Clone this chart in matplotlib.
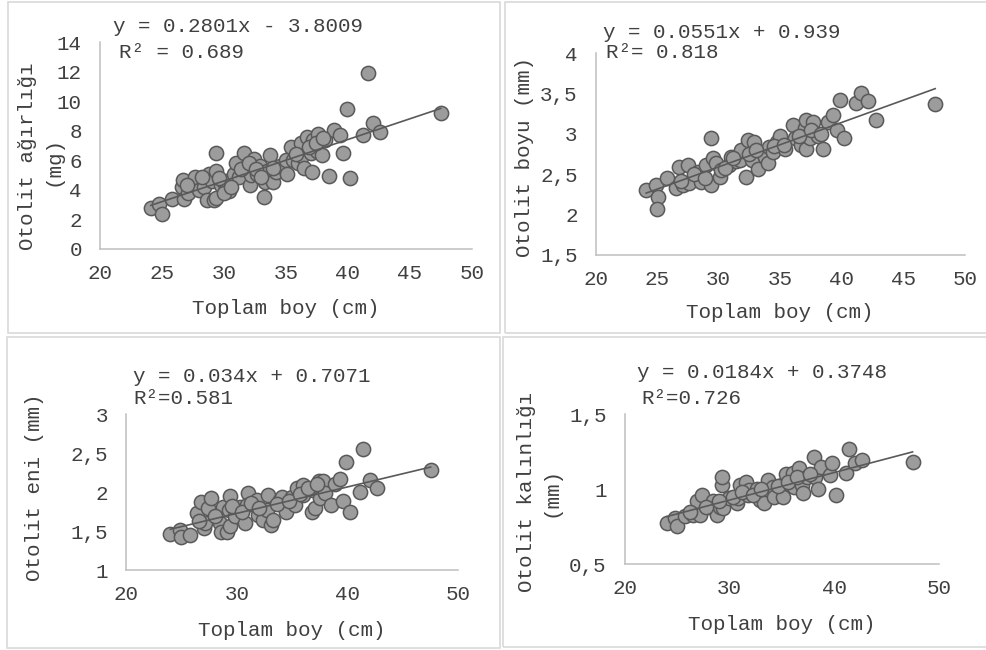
import numpy as np
import matplotlib
matplotlib.use("Agg")
import matplotlib.pyplot as plt
from matplotlib.patches import Rectangle

W, H = 986, 650

# Toplam boy (cm) vs otolit agirligi (mg)
len_w = [24.1, 24.8, 25.0, 25.8, 26.6, 26.7, 26.8, 27.1, 27.4, 27.7, 28.0, 28.4, 28.6, 28.8,
         29.0, 29.2, 29.4, 29.4, 29.4, 29.8, 30.0, 30.2, 30.4, 30.5, 30.8, 31.0, 31.2, 31.6,
         31.8, 32.1, 32.2, 32.4, 32.7, 32.9, 33.2, 33.3, 33.5, 33.7, 34.0, 34.2, 34.5, 35.0,
         35.1, 35.4, 35.6, 36.0, 36.2, 36.3, 36.5, 36.7, 37.0, 37.1, 37.2, 37.5, 37.6, 37.9,
         38.2, 38.5, 38.9, 39.4, 39.6, 39.9, 40.2, 41.2, 41.6, 42.0, 42.6, 47.5,
         27.0, 28.2, 29.6, 30.0, 30.6, 31.4, 32.0, 32.6, 33.0, 34.0, 35.8, 36.9, 37.4, 38.0]
weight = [2.75, 3.04, 2.36, 3.36, 4.17, 4.66, 3.36, 3.76, 4.4, 4.85, 4.0, 4.2, 3.3, 5.1,
          4.6, 3.3, 3.42, 5.27, 6.46, 4.3, 4.5, 4.0, 3.9, 4.7, 5.1, 5.8, 4.9, 6.46,
          5.52, 4.3, 5.0, 6.1, 5.1, 5.6, 3.5, 4.5, 5.3, 6.35, 4.5, 5.22, 5.6, 6.0,
          5.1, 6.9, 6.0, 5.8, 7.14, 6.3, 5.5, 7.6, 6.46, 5.22, 7.36, 6.6, 7.8, 6.35,
          7.36, 4.95, 8.04, 7.7, 6.46, 9.5, 4.78, 7.7, 11.87, 8.5, 7.93, 9.2,
          4.3, 4.9, 4.8, 3.8, 4.2, 5.4, 5.8, 5.4, 4.9, 5.5, 6.4, 6.9, 7.2, 7.5]

# Toplam boy (cm) vs otolit boyu (mm)
len_l = [24.1, 24.9, 25.1, 25.0, 25.8, 26.5, 26.8, 27.1, 27.5, 27.6, 28.3, 28.6, 29.0, 29.4,
         29.4, 29.5, 29.8, 30.1, 30.2, 30.8, 31.0, 31.4, 31.7, 31.8, 32.2, 32.4, 32.7, 32.9,
         33.2, 33.5, 33.8, 34.0, 34.1, 34.4, 34.7, 35.0, 35.4, 36.0, 36.2, 36.7, 37.0, 37.1,
         37.1, 37.4, 37.7, 38.1, 38.5, 38.9, 39.3, 39.6, 39.9, 40.2, 41.2, 41.6, 42.1, 42.8, 47.6,
         26.9, 28.0, 28.9, 30.5, 31.2, 32.5, 33.0, 34.5, 35.3, 36.5, 37.5, 38.3]
length = [2.31, 2.37, 2.22, 2.07, 2.45, 2.33, 2.59, 2.37, 2.62, 2.39, 2.53, 2.41, 2.62, 2.95,
          2.37, 2.70, 2.64, 2.47, 2.55, 2.62, 2.72, 2.66, 2.68, 2.80, 2.47, 2.93, 2.68, 2.90,
          2.57, 2.78, 2.72, 2.64, 2.84, 2.78, 2.90, 2.97, 2.82, 3.11, 2.95, 2.86, 3.07, 2.82,
          3.17, 2.95, 3.15, 2.97, 2.82, 3.15, 3.23, 3.05, 3.42, 2.95, 3.38, 3.51, 3.41, 3.17, 3.37,
          2.42, 2.50, 2.45, 2.58, 2.70, 2.75, 2.80, 2.85, 2.86, 2.98, 3.05, 3.00]

# Toplam boy (cm) vs otolit eni (mm)
len_b = [24.0, 24.9, 25.0, 25.8, 26.4, 26.8, 27.0, 27.1, 27.4, 27.7, 28.5, 28.6, 28.8, 29.1,
         29.3, 29.4, 29.4, 29.8, 30.3, 30.7, 31.0, 30.9, 31.8, 31.9, 32.4, 32.7, 32.8, 33.1,
         33.3, 33.9, 34.1, 34.4, 35.0, 35.3, 35.4, 36.0, 36.0, 36.8, 37.1, 36.9, 37.4, 37.5,
         37.8, 38.0, 38.5, 38.9, 39.3, 39.6, 39.9, 40.2, 41.1, 41.4, 42.0, 42.7, 47.5,
         26.6, 28.0, 29.6, 30.5, 31.3, 32.0, 33.6, 34.7, 35.7, 36.4, 37.2]
breadth = [1.46, 1.52, 1.42, 1.45, 1.73, 1.87, 1.54, 1.60, 1.79, 1.92, 1.60, 1.49, 1.81, 1.49,
           1.77, 1.95, 1.56, 1.69, 1.81, 1.60, 1.99, 1.84, 1.90, 1.71, 1.64, 1.77, 1.96, 1.58,
           1.64, 1.90, 1.94, 1.75, 1.94, 1.84, 2.05, 2.09, 1.96, 1.75, 1.79, 2.03, 2.14, 1.92,
           2.14, 1.99, 1.83, 2.11, 2.17, 1.88, 2.39, 1.74, 2.00, 2.55, 2.16, 2.05, 2.28,
           1.63, 1.70, 1.82, 1.75, 1.86, 1.80, 1.85, 1.88, 1.98, 2.05, 2.10]

# Toplam boy (cm) vs otolit kalinligi (mm)
len_t = [24.0, 24.8, 25.0, 25.8, 26.5, 26.8, 26.9, 27.2, 27.4, 28.1, 28.4, 28.8, 29.1, 29.3,
         29.3, 29.4, 30.0, 30.7, 30.8, 31.0, 31.6, 31.8, 31.9, 32.6, 32.9, 33.3, 33.7, 34.2,
         34.3, 35.0, 35.1, 35.4, 36.1, 36.2, 36.7, 36.9, 37.0, 37.4, 38.1, 38.2, 38.5, 38.8,
         39.6, 39.8, 40.2, 41.1, 41.4, 42.0, 42.7, 47.5,
         26.2, 27.8, 29.0, 30.3, 31.2, 32.3, 33.0, 34.6, 35.6, 36.5, 37.7]
thick = [0.776, 0.805, 0.754, 0.82, 0.827, 0.86, 0.923, 0.827, 0.96, 0.883, 0.923, 0.827, 0.883, 1.03,
         1.083, 0.872, 0.939, 0.905, 0.939, 1.03, 1.05, 0.96, 0.994, 0.999, 0.928, 0.905, 1.061, 1.017,
         0.95, 1.028, 0.95, 1.101, 1.106, 1.017, 1.139, 1.028, 0.977, 1.083, 1.217, 1.083, 0.999, 1.15,
         1.095, 1.173, 0.961, 1.11, 1.266, 1.173, 1.195, 1.184,
         0.85, 0.88, 0.92, 0.95, 0.98, 0.96, 1.00, 1.02, 1.05, 1.08, 1.10]

# trendline coefficients as printed on the chart
slopes = [0.2801, 0.0551, 0.034, 0.0184]
intercepts = [-3.8009, 0.939, 0.7071, 0.3748]
eq_texts = ["y = 0.2801x - 3.8009", "y = 0.0551x + 0.939", "y = 0.034x + 0.7071", "y = 0.0184x + 0.3748"]
r2_texts = ["R² = 0.689", "R²= 0.818", "R²=0.581", "R²=0.726"]
ylabels = [["Otolit ağırlığı", "(mg)"], ["Otolit boyu (mm)"], ["Otolit eni (mm)"], ["Otolit kalınlığı", "(mm)"]]
xlabel = "Toplam boy (cm)"

xticks = [[20, 25, 30, 35, 40, 45, 50], [20, 25, 30, 35, 40, 45, 50], [20, 30, 40, 50], [20, 30, 40, 50]]
yticks = [[0, 2, 4, 6, 8, 10, 12, 14], [1.5, 2, 2.5, 3, 3.5, 4], [1, 1.5, 2, 2.5, 3], [0.5, 1, 1.5]]
ytick_labels = [["0", "2", "4", "6", "8", "10", "12", "14"],
                ["1,5", "2", "2,5", "3", "3,5", "4"],
                ["1", "1,5", "2", "2,5", "3"],
                ["0,5", "1", "1,5"]]

plt.rcParams['font.family'] = ['Liberation Mono', 'DejaVu Sans Mono']
TXT = '#404040'
FS = 15

fig = plt.figure(figsize=(W / 100, H / 100), dpi=100)


def fx(x):
    return x / W


def fy(y):
    return 1 - y / H


def box(x0, y0, x1, y1):
    fig.patches.append(Rectangle((fx(x0), fy(y1)), fx(x1 - x0), (y1 - y0) / H,
                                 transform=fig.transFigure, fill=False,
                                 edgecolor='#d9d9d9', linewidth=1.2))


def add_panel(i, rect_px, xs, ys, eq_pos, r2_pos, ylab_pos, xlab_y):
    l, r, b, t = rect_px
    ax = fig.add_axes([fx(l), fy(b), fx(r - l), (b - t) / H])
    ax.scatter(xs, ys, s=105, c='#9c9c9c', edgecolors='#595959', linewidths=1.1, zorder=2)
    lx = np.array([min(xs), max(xs)])
    ax.plot(lx, slopes[i] * lx + intercepts[i], color='#595959', linewidth=1.2, zorder=3)
    ax.set_xlim(20, 50)
    ax.set_ylim(yticks[i][0], yticks[i][-1])
    ax.set_xticks(xticks[i])
    ax.set_xticklabels([str(v) for v in xticks[i]])
    ax.set_yticks(yticks[i])
    ax.set_yticklabels(ytick_labels[i])
    ax.tick_params(length=0, labelsize=FS, labelcolor=TXT)
    ax.tick_params(axis='y', pad=13)
    ax.tick_params(axis='x', pad=11)
    for s in ['top', 'right']:
        ax.spines[s].set_visible(False)
    for s in ['left', 'bottom']:
        ax.spines[s].set_color('#bfbfbf')
        ax.spines[s].set_linewidth(1.1)
    ax.patch.set_alpha(0)

    fig.text(fx(eq_pos[0]), fy(eq_pos[1]), eq_texts[i], fontsize=FS, color=TXT, ha='left', va='center')
    fig.text(fx(r2_pos[0]), fy(r2_pos[1]), r2_texts[i], fontsize=FS, color=TXT, ha='left', va='center')
    for (x, y), s in zip(ylab_pos, ylabels[i]):
        fig.text(fx(x), fy(y), s, fontsize=FS, color=TXT, rotation=90, ha='center', va='center')
    fig.text(fx((l + r) / 2), fy(xlab_y), xlabel, fontsize=FS, color=TXT, ha='center', va='center')
    return ax


# panel frames
box(8, 2, 500, 333)
box(505, 2, 990, 333)
box(7, 337, 500, 648)
box(503, 337, 990, 647)

add_panel(0, (100, 471.7, 249, 42), len_w, weight, (113, 27), (119, 52),
          [(28, 156), (53, 161)], 308)
add_panel(1, (595.7, 964.7, 255, 53.3), len_l, length, (603, 32), (606, 53),
          [(525, 157)], 312)
add_panel(2, (126, 458.3, 570, 414.3), len_b, breadth, (133, 377), (133, 399),
          [(35, 487)], 630)
add_panel(3, (624.7, 938.7, 564, 414.3), len_t, thick, (637, 372), (641, 399),
          [(526, 492), (551, 492)], 624)

fig.savefig("out.png", dpi=100)
